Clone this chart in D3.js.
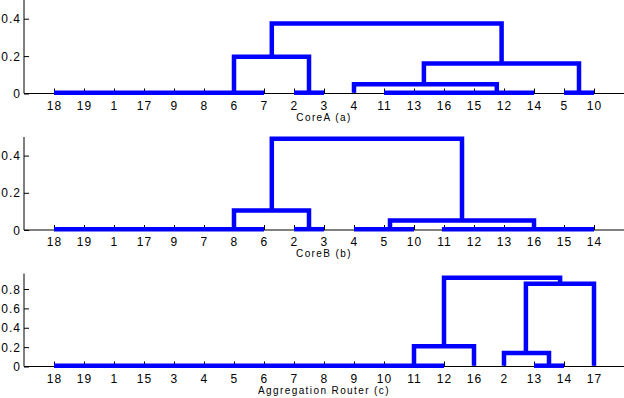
<!DOCTYPE html>
<html><head><meta charset="utf-8">
<script src="https://cdn.jsdelivr.net/npm/d3@7"></script>
<style>
body{margin:0;background:#fff;}
svg text{font-family:"Liberation Sans",Arial,sans-serif;fill:#000;}
</style></head>
<body><svg id="c" width="624" height="398"></svg>
<script>
// Leaf orders (tick labels)
const leavesA = ["18","19","1","17","9","8","6","7","2","3","4","11","13","16","15","12","14","5","10"];
const leavesB = ["18","19","1","17","9","7","8","6","2","3","4","5","10","11","12","13","16","15","14"];
const leavesC = ["18","19","1","15","3","4","5","6","7","8","9","10","11","12","16","2","13","14","17"];

// zero-height merges: [leftPos, rightPos]
const zeroA = [[1,8],[9,10],[12,17],[18,19]];
const zeroB = [[1,8],[9,10],[11,13],[13.93,19]];
const zeroC = [[1,14],[17,18]];

// links: [leftPos, rightPos, leftBottom, rightBottom, height]
const linksA = [[11,15.76,0,0,0.05],[7,9.5,0,0,0.196],[13.33,18.5,0.05,0,0.16],[8.26,15.92,0.196,0.16,0.375]];
const linksB = [[7,9.5,0,0,0.105],[12.2,17,0,0,0.051],[8.26,14.6,0.105,0.051,0.49]];
const linksC = [[13,15,0,0,0.21],[16,17.5,0,0,0.14],[16.73,19,0.14,0,0.855],[14,17.87,0.21,0.855,0.917]];

const yTicksA = [0,0.2,0.4], yTicksB = [0,0.2,0.4], yTicksC = [0,0.2,0.4,0.6,0.8];
const titles = ["CoreA (a)","CoreB (b)","Aggregation Router (c)"];

const panels = [
  {leaves:leavesA, zero:zeroA, links:linksA, yt:yTicksA, title:titles[0], ymax:0.5, y0:93.5, y1:0},
  {leaves:leavesB, zero:zeroB, links:linksB, yt:yTicksB, title:titles[1], ymax:0.5, y0:230, y1:137},
  {leaves:leavesC, zero:zeroC, links:linksC, yt:yTicksC, title:titles[2], ymax:0.96, y0:366.5, y1:273.5}
];

const svg = d3.select("#c");
const x = d3.scaleLinear().domain([0,20]).range([24,624]);

panels.forEach(p=>{
  const y = d3.scaleLinear().domain([0,p.ymax]).range([p.y0,p.y1]);
  const g = svg.append("g");
  // x axis
  const xa = d3.axisTop(x).tickValues(d3.range(1,20)).tickSize(5).tickFormat("");
  const gx = g.append("g").attr("transform",`translate(0,${p.y0})`).call(xa);
  gx.select(".domain").attr("d",`M24,0H624`).attr("stroke","#000");
  gx.selectAll(".tick line").attr("stroke","#000");
  g.selectAll("text.xl").data(p.leaves).enter().append("text")
    .attr("x",(d,i)=>x(i+1)+0.5).attr("y",p.y0+16)
    .attr("text-anchor","middle").attr("font-size","12px").attr("letter-spacing","1.1px")
    .text(d=>d);
  // y axis
  const ya = d3.axisRight(y).tickValues(p.yt).tickSize(5).tickFormat("");
  const gy = g.append("g").attr("transform","translate(24,0)").call(ya);
  gy.select(".domain").attr("d",`M0,${p.y0}V${p.y1}`).attr("stroke","#000");
  g.selectAll("text.yl").data(p.yt).enter().append("text")
    .attr("x",21).attr("y",d=>y(d)+4.5)
    .attr("text-anchor","end").attr("font-size","12px").attr("letter-spacing","1px")
    .text(d=>d===0?"0":d3.format(".1f")(d));
  // title
  g.append("text").attr("x",324).attr("y",p.y0+27).attr("text-anchor","middle")
    .attr("font-size","10px").attr("letter-spacing","1.4px").text(p.title);
  // zero segments
  g.selectAll("path.z").data(p.zero).enter().append("path")
    .attr("d",d=>`M${x(d[0])},${y(0)-0.8}H${x(d[1])}`)
    .attr("stroke","#0000ff").attr("stroke-width",4.5).attr("fill","none");
  // links
  g.selectAll("path.l").data(p.links).enter().append("path")
    .attr("d",d=>`M${x(d[0])},${y(d[2])-0.8}V${y(d[4])}H${x(d[1])}V${y(d[3])-0.8}`)
    .attr("stroke","#0000ff").attr("stroke-width",4.5).attr("fill","none")
    .attr("stroke-linejoin","miter");
});
</script></body></html>
